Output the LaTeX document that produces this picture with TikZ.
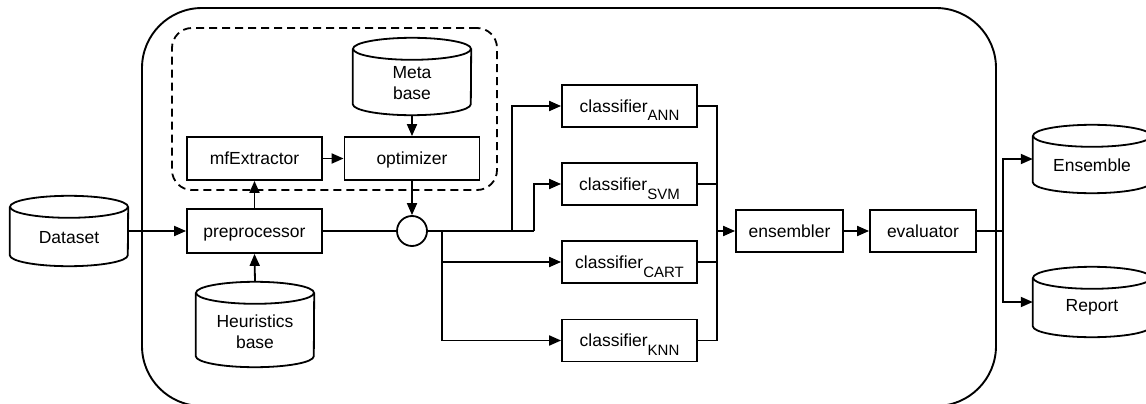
\documentclass[tikz,border=0pt]{standalone}
\usepackage{fontspec}
\setmainfont{Liberation Sans}
\usetikzlibrary{arrows.meta,calc}
\newcommand\fsz{\fontsize{17.5}{21}\selectfont}
\newcommand\subs[1]{\smash{\raisebox{-9pt}{\fontsize{15}{15}\selectfont #1}}}
\tikzset{
  ln/.style={line width=1.8pt},
  box/.style={draw, line width=1.8pt, minimum width=135pt, minimum height=43pt, inner sep=0pt, font=\fsz, text height=12pt, text depth=0pt},
  arr/.style={line width=1.8pt, -{Triangle[length=12pt,width=10pt]}},
}
% name, cx, cy (down), w, h, text, text shift
\newcommand\dbcyl[7]{%
  \node[minimum width=#4pt, minimum height=#5pt, inner sep=0pt] (#1) at (#2,-#3) {};
  \draw[ln] ($(#1.north west)+(0,-11)$) -- ($(#1.south west)+(0,11)$)
     arc[start angle=180,end angle=360,x radius=#4/2,y radius=11] -- ($(#1.north east)+(0,-11)$);
  \draw[ln] ($(#1.north)+(0,-11)$) ellipse[x radius=#4/2, y radius=11];
  \node[font=\fsz, align=center, inner sep=0pt] (#1-t) at ($(#1.center)+(0,-#7)$) {#6};
}
\begin{document}
\begin{tikzpicture}[x=1pt,y=1pt]
\clip (0,0) rectangle (1146,-404);
% containers
\node[draw, line width=1.9pt, rounded corners=60pt, minimum width=854pt, minimum height=398pt, inner sep=0pt] (outer) at (569,-207) {};
\node[draw, line width=1.8pt, dash pattern=on 8pt off 5pt, rounded corners=20pt, minimum width=325pt, minimum height=162pt, inner sep=0pt] (dash) at (334.5,-109) {};
% databases
\dbcyl{data}{69}{231}{118}{70}{Dataset}{7}
\dbcyl{meta}{412}{76.5}{118}{77}{Meta\\base}{7}
\dbcyl{heur}{255}{324.5}{118}{85}{Heuristics\\base}{7}
\dbcyl{ensdb}{1092}{159}{118}{68}{Ensemble}{6}
\dbcyl{rep}{1092}{302}{118}{70}{Report}{5}
% boxes
\node[box, minimum height=44pt] (prep) at (254.5,-231) {preprocessor};
\node[box] (mfe) at (254.5,-158.5) {mfExtractor};
\node[box] (opt) at (412,-158.5) {optimizer};
\node[draw, circle, line width=1.8pt, minimum size=30pt, inner sep=0pt] (circ) at (412,-231) {};
\node[box, minimum height=42pt] (ann) at (629.5,-106) {classifier\subs{ANN}};
\node[box, minimum height=42pt] (svm) at (629.5,-184) {classifier\subs{SVM}};
\node[box, minimum height=42pt] (cart) at (629.5,-262) {classifier\subs{CART}};
\node[box, minimum height=42pt] (knn) at (629.5,-340.5) {classifier\subs{KNN}};
\node[box, minimum width=107pt, minimum height=42pt] (ens) at (789.5,-231) {ensembler};
\node[box, minimum width=106pt, minimum height=42pt] (eval) at (923,-231) {evaluator};
% junctions
\coordinate (j1) at (512,-231);
\coordinate (j2) at (534,-231);
\coordinate (j3) at (442,-231);
\coordinate (m) at (717,-231);
\coordinate (k) at (1003,-231);
% connectors
\draw[arr] (data.east) -- (prep.west);
\draw[arr] (prep.north) -- (mfe.south);
\draw[arr] (heur.north) -- (prep.south);
\draw[arr] (mfe.east) -- (opt.west);
\draw[arr] (meta.south) -- (opt.north);
\draw[arr] (opt.south) -- (circ.north);
\draw[ln] (prep.east) -- (circ.west);
\draw[ln] (circ.east) -- (j2);
\draw[arr] (j2) |- (svm.west);
\draw[arr] (j1) |- (ann.west);
\draw[arr] (j3) |- (cart.west);
\draw[arr] (j3) |- (knn.west);
\draw[ln] (ann.east) -| (m);
\draw[ln] (svm.east) -| (m);
\draw[ln] (cart.east) -| (m);
\draw[ln] (knn.east) -| (m);
\draw[arr] (m) -- (ens.west);
\draw[arr] (ens.east) -- (eval.west);
\draw[ln] (eval.east) -- (k);
\draw[arr] (k) |- (ensdb.west);
\draw[arr] (k) |- (rep.west);
\end{tikzpicture}
\end{document}
